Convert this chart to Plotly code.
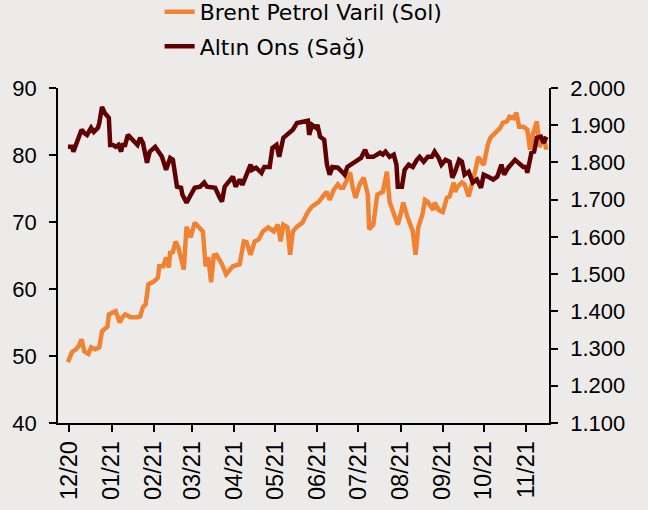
import plotly.graph_objects as go

# Brent (left axis)
brent_dates = [
    "2020-11-30", "2020-12-03", "2020-12-06", "2020-12-08", "2020-12-10", "2020-12-12",
    "2020-12-15", "2020-12-17", "2020-12-20", "2020-12-23", "2020-12-25", "2020-12-29",
    "2020-12-30", "2021-01-04", "2021-01-07", "2021-01-09", "2021-01-11", "2021-01-15",
    "2021-01-20", "2021-01-22", "2021-01-24", "2021-01-26", "2021-01-28", "2021-02-01",
    "2021-02-04", "2021-02-05", "2021-02-08", "2021-02-10", "2021-02-12", "2021-02-13",
    "2021-02-15", "2021-02-17", "2021-02-19", "2021-02-23", "2021-02-25", "2021-02-28",
    "2021-03-03", "2021-03-07", "2021-03-09", "2021-03-11", "2021-03-13", "2021-03-15",
    "2021-03-17", "2021-03-19", "2021-03-23", "2021-03-26", "2021-03-31", "2021-04-05",
    "2021-04-08", "2021-04-10", "2021-04-13", "2021-04-16", "2021-04-19", "2021-04-22",
    "2021-04-26", "2021-04-30", "2021-05-03", "2021-05-05", "2021-05-07", "2021-05-10",
    "2021-05-12", "2021-05-14", "2021-05-17", "2021-05-21", "2021-05-25", "2021-05-28",
    "2021-06-02", "2021-06-05", "2021-06-08", "2021-06-10", "2021-06-13", "2021-06-16",
    "2021-06-18", "2021-06-20", "2021-06-23", "2021-06-25", "2021-06-27", "2021-06-29",
    "2021-07-02", "2021-07-05", "2021-07-08", "2021-07-09", "2021-07-12", "2021-07-15",
    "2021-07-19", "2021-07-22", "2021-07-24", "2021-07-27", "2021-07-30", "2021-08-01",
    "2021-08-03", "2021-08-06", "2021-08-08", "2021-08-10", "2021-08-12", "2021-08-14",
    "2021-08-17", "2021-08-19", "2021-08-21", "2021-08-25", "2021-08-26", "2021-08-29",
    "2021-09-01", "2021-09-04", "2021-09-06", "2021-09-09", "2021-09-10", "2021-09-12",
    "2021-09-15", "2021-09-17", "2021-09-20", "2021-09-23", "2021-09-25", "2021-09-27",
    "2021-10-01", "2021-10-04", "2021-10-06", "2021-10-08", "2021-10-11", "2021-10-13",
    "2021-10-15", "2021-10-18", "2021-10-20", "2021-10-23", "2021-10-25", "2021-10-27",
    "2021-10-30", "2021-11-02", "2021-11-04", "2021-11-06", "2021-11-09", "2021-11-11",
    "2021-11-14", "2021-11-16",
]
brent_values = [
    49.1, 50.6, 51.0, 51.5, 52.5, 50.7,
    50.3, 51.3, 51.0, 51.3, 53.7, 54.4,
    56.2, 56.7, 55.0, 55.8, 56.2, 55.8,
    55.8, 55.9, 57.3, 57.7, 60.7, 61.1,
    61.7, 63.4, 63.4, 64.7, 63.2, 65.4,
    65.5, 67.1, 66.2, 62.9, 69.3, 67.7,
    69.9, 68.9, 68.6, 63.4, 64.7, 61.0,
    65.0, 65.1, 63.7, 62.2, 63.4, 63.7,
    67.1, 67.0, 65.1, 67.1, 67.4, 68.6,
    69.2, 68.6, 69.6, 67.1, 69.6, 69.2,
    65.1, 68.6, 69.3, 69.9, 71.5, 72.3,
    73.0, 73.8, 74.5, 73.3, 74.8, 75.6,
    75.1, 75.1, 76.6, 77.4, 75.1, 73.6,
    75.6, 76.6, 74.1, 68.9, 69.6, 74.1,
    74.5, 77.5, 73.0, 71.5, 69.6, 71.1,
    72.9, 70.8, 69.6, 68.6, 65.1, 69.2,
    71.1, 73.3, 73.0, 71.8, 72.9, 71.8,
    71.5, 73.6, 73.8, 75.9, 74.5, 75.3,
    75.9, 75.6, 73.8, 75.9, 77.8, 79.7,
    78.5, 81.5, 82.6, 83.0, 83.5, 84.0,
    84.8, 85.0, 85.7, 85.5, 86.3, 84.2,
    84.2, 83.8, 80.8, 83.0, 85.0, 81.2,
    82.7, 80.8,
]

# Gold ounce (right axis)
gold_dates = [
    "2020-11-30", "2020-12-03", "2020-12-04", "2020-12-07", "2020-12-10", "2020-12-12",
    "2020-12-14", "2020-12-17", "2020-12-19", "2020-12-22", "2020-12-23", "2020-12-25",
    "2020-12-27", "2020-12-30", "2020-12-31", "2021-01-02", "2021-01-04", "2021-01-06",
    "2021-01-08", "2021-01-09", "2021-01-11", "2021-01-13", "2021-01-16", "2021-01-18",
    "2021-01-20", "2021-01-22", "2021-01-24", "2021-01-27", "2021-01-29", "2021-02-02",
    "2021-02-04", "2021-02-07", "2021-02-10", "2021-02-13", "2021-02-15", "2021-02-18",
    "2021-02-21", "2021-02-22", "2021-02-25", "2021-03-01", "2021-03-03", "2021-03-07",
    "2021-03-10", "2021-03-12", "2021-03-15", "2021-03-18", "2021-03-21", "2021-03-23",
    "2021-03-25", "2021-03-28", "2021-03-31", "2021-04-02", "2021-04-05", "2021-04-07",
    "2021-04-10", "2021-04-13", "2021-04-14", "2021-04-17", "2021-04-21", "2021-04-23",
    "2021-04-27", "2021-04-29", "2021-05-02", "2021-05-04", "2021-05-07", "2021-05-11",
    "2021-05-14", "2021-05-17", "2021-05-20", "2021-05-25", "2021-05-26", "2021-05-28",
    "2021-05-31", "2021-06-01", "2021-06-03", "2021-06-06", "2021-06-08", "2021-06-10",
    "2021-06-12", "2021-06-16", "2021-06-19", "2021-06-21", "2021-06-23", "2021-06-27",
    "2021-06-30", "2021-07-03", "2021-07-06", "2021-07-08", "2021-07-12", "2021-07-17",
    "2021-07-19", "2021-07-21", "2021-07-24", "2021-07-27", "2021-07-29", "2021-07-30",
    "2021-08-02", "2021-08-04", "2021-08-07", "2021-08-10", "2021-08-13", "2021-08-15",
    "2021-08-18", "2021-08-21", "2021-08-24", "2021-08-26", "2021-08-29", "2021-08-31",
    "2021-09-03", "2021-09-06", "2021-09-08", "2021-09-10", "2021-09-13", "2021-09-15",
    "2021-09-17", "2021-09-20", "2021-09-23", "2021-09-26", "2021-09-29", "2021-10-01",
    "2021-10-04", "2021-10-08", "2021-10-11", "2021-10-14", "2021-10-16", "2021-10-19",
    "2021-10-24", "2021-10-27", "2021-10-30", "2021-11-01", "2021-11-02", "2021-11-05",
    "2021-11-07", "2021-11-09", "2021-11-12", "2021-11-14", "2021-11-16",
]
gold_values = [
    1842, 1842, 1829, 1861, 1888, 1879,
    1874, 1893, 1882, 1893, 1906, 1949,
    1933, 1920, 1847, 1847, 1842, 1847,
    1829, 1847, 1847, 1874, 1861, 1853,
    1847, 1866, 1853, 1799, 1829, 1842,
    1829, 1815, 1780, 1812, 1807, 1735,
    1732, 1713, 1692, 1719, 1732, 1735,
    1746, 1735, 1732, 1732, 1708, 1695,
    1735, 1748, 1762, 1735, 1754, 1740,
    1767, 1794, 1780, 1786, 1772, 1788,
    1788, 1839, 1847, 1815, 1866, 1879,
    1888, 1906, 1909, 1912, 1874, 1901,
    1893, 1901, 1869, 1861, 1794, 1767,
    1788, 1786, 1775, 1767, 1788, 1799,
    1807, 1812, 1834, 1815, 1815, 1826,
    1821, 1829, 1815, 1821, 1794, 1735,
    1735, 1780, 1794, 1788, 1807, 1815,
    1802, 1815, 1815, 1829, 1812, 1794,
    1807, 1802, 1759, 1775, 1807, 1802,
    1767, 1775, 1746, 1754, 1732, 1767,
    1762, 1754, 1762, 1794, 1767, 1786,
    1807, 1799, 1788, 1788, 1772, 1826,
    1829, 1866, 1869, 1853, 1869,
]

month_ticks = ["2020-12-01", "2021-01-01", "2021-02-01", "2021-03-01", "2021-04-01",
               "2021-05-01", "2021-06-01", "2021-07-01", "2021-08-01", "2021-09-01",
               "2021-10-01", "2021-11-01"]
month_labels = ["12/20", "01/21", "02/21", "03/21", "04/21", "05/21", "06/21",
                "07/21", "08/21", "09/21", "10/21", "11/21"]

BG = "#EDEBEA"
ORANGE = "#F08232"
DARK = "#600000"

fig = go.Figure()
fig.add_trace(go.Scatter(x=brent_dates, y=brent_values, mode="lines",
                         name="Brent Petrol Varil (Sol)", legendgroup="a",
                         line=dict(color=ORANGE, width=4.5)))
fig.add_trace(go.Scatter(x=gold_dates, y=gold_values, mode="lines",
                         name="Altın Ons (Sağ)", legendgroup="b", yaxis="y2",
                         line=dict(color=DARK, width=4.5)))

axis_font = dict(family="Liberation Sans, Arial, sans-serif", size=22, color="#000000")
common = dict(ticks="outside", ticklen=7, tickwidth=1.5, tickcolor="#000000",
              showline=True, linecolor="#000000", linewidth=1.5,
              showgrid=False, zeroline=False, automargin=False)

fig.update_layout(
    width=648, height=510,
    paper_bgcolor=BG, plot_bgcolor=BG,
    margin=dict(l=58, r=99, t=88, b=87, autoexpand=False),
    separators=",.",
    showlegend=True,
    legend=dict(x=0.207, xanchor="left", y=1.29, yref="paper", yanchor="top",
                bgcolor="rgba(0,0,0,0)", tracegroupgap=3,
                font=dict(family="DejaVu Sans, sans-serif", size=22, color="#000000")),
    xaxis=dict(
        type="date", range=["2020-11-22 17:00", "2021-11-17 22:00"],
        tickvals=month_ticks, ticktext=month_labels, tickangle=-90,
        ticklabelstandoff=0,
        tickfont=dict(family="Liberation Sans, Arial, sans-serif", size=23.5, color="#000000"),
        **common,
    ),
    yaxis=dict(range=[40, 90], dtick=10, tick0=40, tickfont=axis_font,
               ticklabelstandoff=8, **common),
    yaxis2=dict(range=[1100, 2000], dtick=100, tick0=1100, overlaying="y", side="right",
                tickformat=",d", tickfont=axis_font, ticklabelstandoff=8, **common),
)

fig.write_html("out.html", config={"displayModeBar": False},
               post_script="document.body.style.margin='0';")
